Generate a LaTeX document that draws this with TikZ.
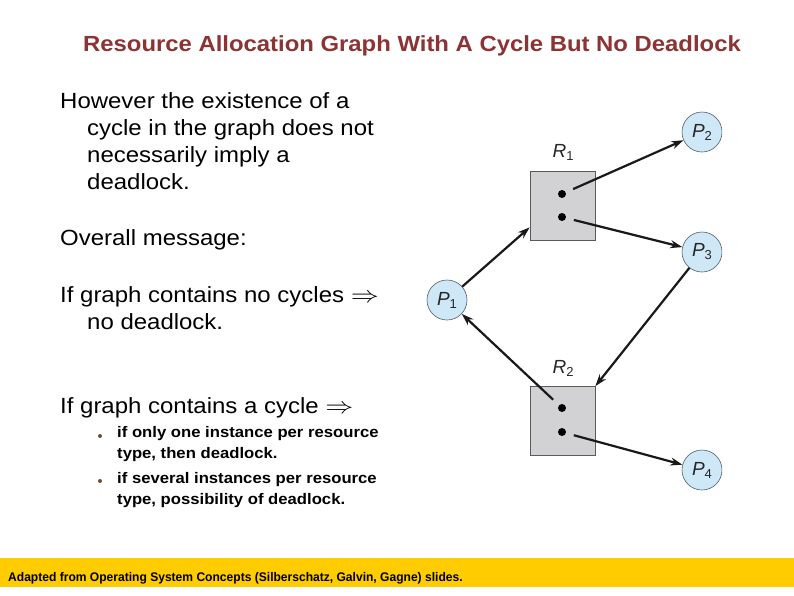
\documentclass[tikz,border=0pt]{standalone}
\usepackage{fontspec}
\setmainfont{Liberation Sans}
\setsansfont{Liberation Sans}
\newfontfamily\slidefont[FakeStretch=1.09]{Liberation Sans}
\usepackage{graphicx}
\usetikzlibrary{arrows.meta,positioning,calc}
\definecolor{titleRed}{HTML}{8C3333}
\definecolor{procFill}{HTML}{CFE8F7}
\definecolor{procLine}{HTML}{4F5F6A}
\definecolor{resFill}{HTML}{D2D2D4}
\definecolor{resLine}{HTML}{5A5A5A}
\definecolor{barYellow}{HTML}{FFCC00}
\definecolor{bulletBrown}{HTML}{6E4A3A}
% graph vertex name: italic letter, upright index
\newcommand{\vname}[2]{\textit{#1}\raisebox{-0.3ex}{\fontsize{13}{13}\selectfont #2}}
\newcommand{\implies}{\scalebox{1.35}[1.1]{$\Rightarrow$}}

\begin{document}
\begin{tikzpicture}[
  x=1pt, y=-1pt,
  >={Stealth[length=12pt,width=8pt]},
  body/.style={anchor=north west, inner sep=0pt, align=left,
    font=\slidefont\fontsize{22}{27}\selectfont},
  subitem/.style={anchor=north west, inner sep=0pt, align=left,
    font=\slidefont\bfseries\fontsize{15.3}{21}\selectfont},
  bulletdot/.style={circle, fill=bulletBrown, inner sep=0pt, minimum size=4pt},
  process/.style={circle, draw=procLine, fill=procFill, line width=0.6pt,
    minimum size=40pt, inner sep=0pt, text=black!85, font=\fontsize{19}{19}\selectfont},
  resource/.style={draw=resLine, fill=resFill, line width=0.7pt,
    minimum width=65pt, minimum height=69pt, inner sep=0pt},
  instance/.style={circle, fill=black, inner sep=0pt, minimum size=8pt},
  reslabel/.style={inner sep=0pt, text=black!85, font=\fontsize{19}{19}\selectfont},
  edge/.style={->, line width=2.2pt, draw=black!90},
  hold/.style={edge, shorten <=8pt}
]
  \useasboundingbox (0,0) rectangle (794,595);

  % title
  \node[inner sep=0pt, text=titleRed, font=\slidefont\bfseries\fontsize{21.9}{21.9}\selectfont]
    (title) at (412,46) {Resource Allocation Graph With A Cycle But No Deadlock};

  % left column text
  \node[body] (however) at (60,92)
    {However the existence of a\\\hspace*{27pt}cycle in the graph does not\\\hspace*{27pt}necessarily imply a\\\hspace*{27pt}deadlock.};
  \node[body] (overall) at (60,229) {Overall message:};
  \node[body] (nocycle) at (60,286)
    {If graph contains no cycles \implies\\\hspace*{27pt}no deadlock.};
  \node[body] (acycle) at (60,397) {If graph contains a cycle \implies};
  \node[subitem] (one) at (117,426) {if only one instance per resource\\type, then deadlock.};
  \node[subitem] (several) at (117,472) {if several instances per resource\\type, possibility of deadlock.};
  \node[bulletdot] (b1) at (100,436) {};
  \node[bulletdot] (b2) at (100,481) {};

  % resource allocation graph
  \begin{scope}
    \clip (0,0) rectangle (722,595);
    \node[process] (P1) at (447,300) {\vname{P}{1}};
    \node[process] (P2) at (702,132) {\vname{P}{2}};
    \node[process] (P3) at (702,252) {\vname{P}{3}};
    \node[process] (P4) at (702,470) {\vname{P}{4}};
  \end{scope}

  \node[resource] (R1) at (562.5,205.5) {};
  \node[resource] (R2) at (562.5,421) {};
  \node[reslabel] (R1lab) at (563,152) {\vname{R}{1}};
  \node[reslabel] (R2lab) at (563,368) {\vname{R}{2}};

  \node[instance] (r1a) at (562,194) {};
  \node[instance] (r1b) at (562,217) {};
  \node[instance] (r2a) at (562,408) {};
  \node[instance] (r2b) at (562,432) {};

  \draw[edge] (P1) -- ([yshift=13pt]R1.south west);
  \draw[hold] (r1a) -- (P2);
  \draw[hold] (r1b) -- (P3);
  \draw[edge] (P3) -- (R2.north east);
  \draw[hold] (r2a) -- (P1);
  \draw[hold] (r2b) -- (P4);

  % footer bar
  \fill[barYellow] (0,558) rectangle (794,587);
  \node[anchor=west, inner sep=0pt, font=\bfseries\fontsize{12.5}{12.5}\selectfont]
    (credit) at (8,578) {\scalebox{0.965}[1]{Adapted from Operating System Concepts (Silberschatz, Galvin, Gagne) slides.}};
\end{tikzpicture}
\end{document}
